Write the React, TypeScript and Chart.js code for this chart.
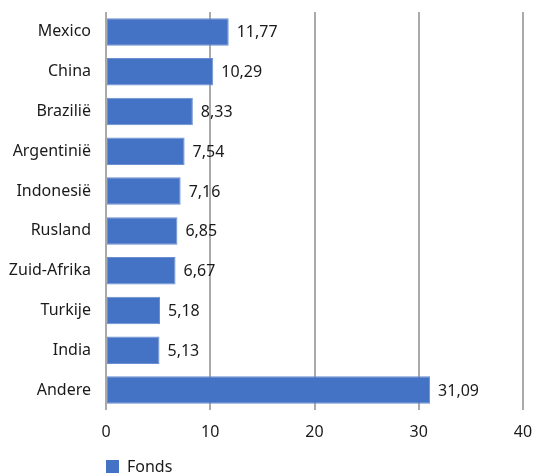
import React, { useEffect, useRef } from "react";
import { Chart, registerables } from "chart.js";

Chart.register(...registerables);

const categories = ["Mexico", "China", "Brazilië", "Argentinië", "Indonesië", "Rusland", "Zuid-Afrika", "Turkije", "India", "Andere"];
const fondsValues = [11.77, 10.29, 8.33, 7.54, 7.16, 6.85, 6.67, 5.18, 5.13, 31.09];
const seriesName = "Fonds";
const xMin = 0;
const xMax = 40;
const xStep = 10;

const FONT = "'Noto Sans', 'Open Sans', sans-serif";
const FONT_SIZE = 16;
const BAR_COLOR = "#4472C4";
const TEXT_COLOR = "#1a1a1a";

const fmt = (v: number) => v.toFixed(2).replace(".", ",");

const valueLabels = {
  id: "valueLabels",
  afterDatasetsDraw(chart: any) {
    const ctx = chart.ctx;
    const meta = chart.getDatasetMeta(0);
    ctx.save();
    ctx.font = `${FONT_SIZE}px ${FONT}`;
    ctx.fillStyle = TEXT_COLOR;
    ctx.textAlign = "left";
    ctx.textBaseline = "middle";
    meta.data.forEach((bar: any, i: number) => {
      const v = chart.data.datasets[0].data[i] as number;
      ctx.fillText(fmt(v), bar.x + 8, bar.y + 1);
    });
    ctx.restore();
  },
};

const bottomLegend = {
  id: "bottomLegend",
  afterDraw(chart: any) {
    const ctx = chart.ctx;
    const left = chart.chartArea.left;
    const y = 466;
    ctx.save();
    ctx.fillStyle = BAR_COLOR;
    ctx.fillRect(left, y - 6, 13, 13);
    ctx.font = `${FONT_SIZE}px ${FONT}`;
    ctx.fillStyle = TEXT_COLOR;
    ctx.textAlign = "left";
    ctx.textBaseline = "middle";
    ctx.fillText(chart.data.datasets[0].label, left + 21, y + 1);
    ctx.restore();
  },
};

export default function App() {
  const ref = useRef<HTMLCanvasElement | null>(null);
  useEffect(() => {
    if (!ref.current) return;
    const chart = new Chart(ref.current, {
      type: "bar",
      data: {
        labels: categories,
        datasets: [
          {
            label: seriesName,
            data: fondsValues,
            backgroundColor: BAR_COLOR,
            borderColor: "#6A8FD0",
            borderWidth: 1,
            borderSkipped: false,
            categoryPercentage: 1,
            barPercentage: 0.69,
          },
        ],
      },
      options: {
        indexAxis: "y",
        animation: false,
        responsive: false,
        maintainAspectRatio: false,
        layout: { padding: { top: 12, right: 11, bottom: 32, left: 0 } },
        plugins: { legend: { display: false }, tooltip: { enabled: false } },
        scales: {
          x: {
            min: xMin,
            max: xMax,
            afterFit: (scale: any) => {
              scale.height = 32;
              scale.paddingLeft = 0;
              scale.paddingRight = 0;
            },
            ticks: {
              stepSize: xStep,
              padding: 13,
              color: TEXT_COLOR,
              font: { family: FONT, size: FONT_SIZE },
            },
            grid: { color: "#AAAAAA", lineWidth: 2, drawTicks: false },
            border: { display: false },
          },
          y: {
            afterFit: (scale: any) => {
              scale.width = 106;
              scale.paddingTop = 0;
              scale.paddingBottom = 0;
            },
            ticks: {
              padding: 15,
              color: TEXT_COLOR,
              font: { family: FONT, size: FONT_SIZE },
            },
            grid: { display: false, drawTicks: false },
            border: { display: false },
          },
        },
      },
      plugins: [valueLabels, bottomLegend],
    });
    return () => chart.destroy();
  }, []);
  return (
    <div style={{ position: "fixed", left: 0, top: 0, width: 534, height: 474, background: "#fff" }}>
      <canvas ref={ref} width={534} height={474} style={{ width: 534, height: 474 }} />
    </div>
  );
}
